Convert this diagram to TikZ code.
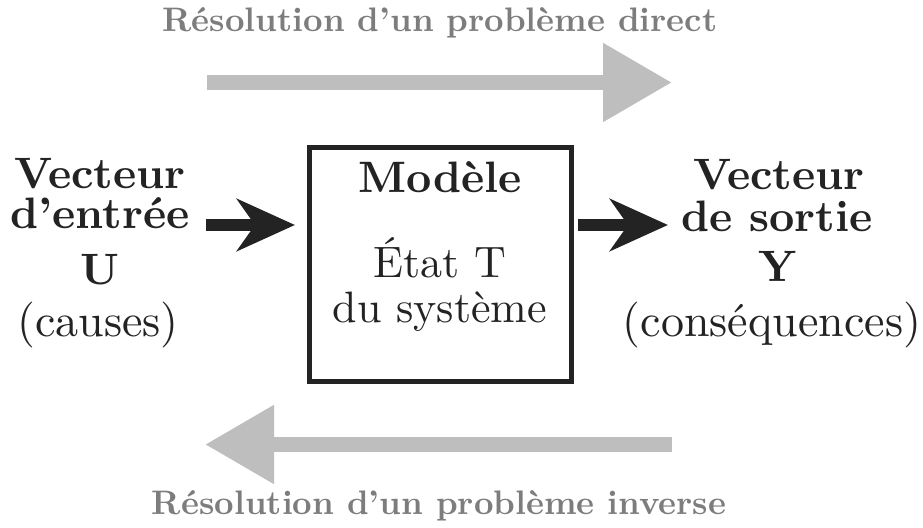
\documentclass[tikz,border=0pt]{standalone}
\usepackage{fontspec}
\setmainfont{lmroman10-regular.otf}[BoldFont=lmroman10-bold.otf, ItalicFont=lmroman10-italic.otf, Ligatures=TeX]
\usetikzlibrary{arrows.meta}
\definecolor{ink}{RGB}{35,35,35}
\definecolor{lblgray}{RGB}{125,125,125}
\definecolor{arrgray}{RGB}{190,190,190}
\begin{document}
\begin{tikzpicture}[x=0.5pt,y=-0.5pt,
 big/.style={font=\fontsize{22}{26}\selectfont, text=ink, anchor=base, inner sep=0pt},
 bigb/.style={big, font=\fontsize{22}{26}\selectfont\bfseries},
 paren/.style={big, font=\fontsize{23}{28}\selectfont},
 lbl/.style={font=\fontsize{17}{20}\selectfont\bfseries, text=lblgray, anchor=base, inner sep=0pt},
 blkarrow/.style={draw=ink, line width=6pt, -{Stealth[length=29pt,width=26pt,inset=9pt]}},
 grayarrow/.style={draw=arrgray, line width=7.5pt, -{Triangle[length=34.5pt,width=37.5pt]}},
 modelbox/.style={draw=ink, line width=2.5pt, minimum width=131pt, minimum height=117pt, inner sep=0pt}]
\useasboundingbox (0,0) rectangle (923,528);
% left column
\node[bigb] (inV) at (100,189) {Vecteur};
\node[bigb] (inE) at (100,229) {d'entrée};
\node[bigb] (inU) at (100,285) {U};
\node[paren] (inC) at (98,337) {(causes)};
% right column
\node[bigb] (outV) at (779,190) {Vecteur};
\node[bigb] (outS) at (777,232) {de sortie};
\node[bigb] (outY) at (778,282) {Y};
\node[paren] (outC) at (772,337) {(conséquences)};
% model box
\node[modelbox] (box) at (440,265) {};
\node[bigb] (boxM) at (440,193) {Modèle};
\node[big] (boxE) at (440,278) {État T};
\node[big] (boxD) at (440,323) {du système};
% labels
\node[lbl] (top) at (440,32) {Résolution d'un problème direct};
\node[lbl] (bot) at (439,515) {Résolution d'un problème inverse};
% gray arrows
\coordinate (dA) at (207,82.5);
\coordinate (dB) at (672,82.5);
\draw[grayarrow] (dA) -- (dB);
\coordinate (iA) at (672,444.5);
\coordinate (iB) at (205,444.5);
\draw[grayarrow] (iA) -- (iB);
% black arrows
\coordinate (inArr) at (206,225);
\draw[blkarrow, shorten >=5.75pt] (inArr) -- (box.west |- inArr);
\coordinate (outArr) at (668,225);
\draw[blkarrow, shorten <=2.25pt] (box.east |- outArr) -- (outArr);
\end{tikzpicture}
\end{document}
